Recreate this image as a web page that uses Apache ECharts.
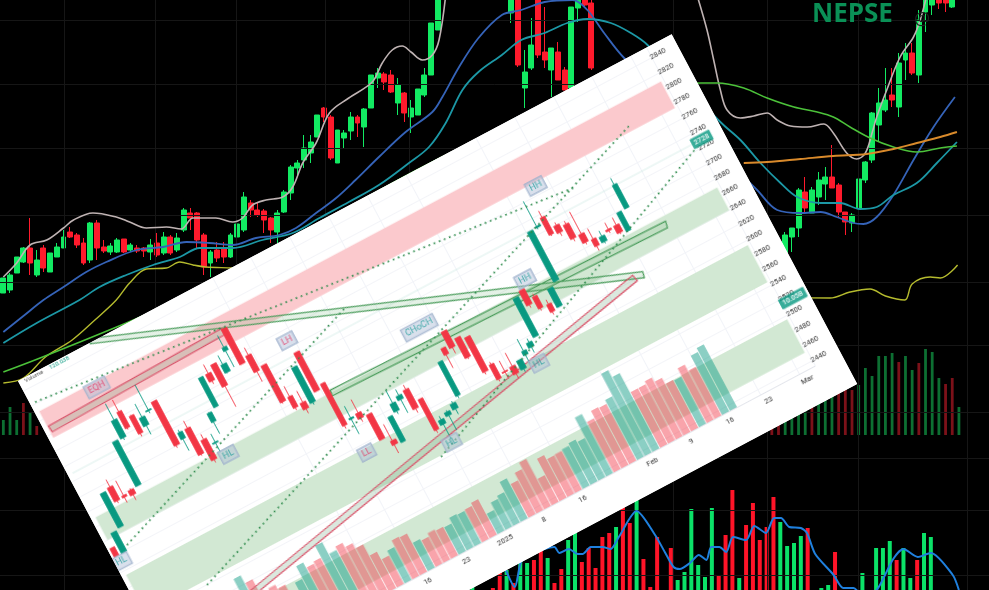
<!DOCTYPE html>
<html><head><meta charset="utf-8">
<style>
html,body{margin:0;padding:0;background:#000;width:989px;height:590px;overflow:hidden}
#bg{position:absolute;left:0;top:0;width:989px;height:590px;filter:blur(0.5px)}
#panel{position:absolute;left:18px;top:381px;width:740px;height:396px;transform-origin:0 0;transform:rotate(-27.95deg);background:#fff;overflow:hidden}
</style>
<script src="https://cdn.jsdelivr.net/npm/echarts@6/dist/echarts.min.js"></script>
</head><body>
<div id="bg"></div><div id="panel"></div>
<script>
// ---------- background chart readings: [dir, bodyTop, bodyBottom, wickTop, wickBottom], level
const bgCandlesA=[['g',278,293,278,293],['g',275,290,273,293],['g',257,273,257,273],['g',248,262,247,263],['r',248,263,218,275],['g',260,275,250,277],['r',248,268,245,272],['g',253,272,253,272],['g',247,257,243,257],['g',237,248,230,248],['r',232,237,227,238],['r',235,245,233,248],['r',243,263,238,265],['g',223,260,222,263],['r',223,248,220,260],['r',247,251,240,253],['g',246,252,243,255],['g',240,252,238,253],['r',239,252,239,253],['g',245,250,243,252],['r',248,251,245,253],['r',248,251,247,257],['g',245,252,239,260],['r',243,255,233,257],['g',237,253,232,255],['r',237,253,235,255],['g',238,250,233,252],['g',210,230,208,232],['r',213,218,208,230],['r',213,240,212,248],['r',235,267,233,275],['g',252,263,250,277],['r',250,258,242,262],['r',248,257,242,263],['g',235,257,233,258],['g',224,237,224,237],['g',197,230,192,232],['r',203,210,200,217],['r',210,215,202,217],['r',211,220,209,233],['r',218,230,217,243],['g',213,232,210,243],['g',192,212,190,213],['g',167,193,165,200],['g',163,168,160,177],['g',148,160,135,168],['g',142,153,135,163],['g',115,137,115,137],['r',108,117,107,122],['r',117,158,115,160],['g',130,163,130,163],['g',133,138,130,148],['g',117,131,112,140],['r',117,123,115,137],['g',109,127,108,147],['g',75,108,75,108],['g',73,78,68,88],['r',74,82,72,90],['r',75,92,70,93],['g',85,103,78,115],['r',93,113,92,122],['g',108,117,100,133],['g',89,115,89,115],['g',75,95,68,97],['g',23,75,23,75],['g',-10,30,-10,30]];
const bgCandlesB=[['g',-5,13,-5,23],['r',-5,65,-5,67],['g',72,88,50,108],['g',45,68,18,70],['r',-5,55,-5,58],['r',52,60,7,68],['g',48,70,48,97],['r',52,80,42,80],['r',70,90,67,90],['g',7,88,7,90],['g',-5,8,-5,22],['r',-5,5,-5,8],['r',3,68,-5,70]];
const bgCandlesC=[['g',235,255,232,258],['g',228,237,228,252],['g',190,228,188,237],['r',192,208,177,212],['g',190,213,187,213],['g',180,197,172,205],['g',177,184,167,200],['r',177,188,145,188],['r',185,212,183,217],['r',212,222,212,235],['g',215,223,213,232],['g',179,208,178,212],['g',162,180,161,183],['g',113,160,112,163],['g',103,125,88,142],['g',100,110,68,112],['r',95,100,68,107],['g',63,107,53,117],['g',53,60,43,80],['r',53,73,43,75],['g',20,75,10,83],['g',-5,12,-5,32],['g',-5,5,-5,15],['r',-5,3,-5,9],['r',-5,3,-5,12],['g',-5,7,-5,8]];
const bgStartA=0,bgStartB=76,bgStartC=117,bgBars=148;
const whiteLineA=[[0,277],[2,263],[4,245],[6.5,240],[9,228],[10.5,220],[13.4,213],[16.9,217],[18.9,222],[21.4,228],[24.4,227],[26.6,229],[28.4,218],[31.8,218],[34.3,222],[35.8,218],[37.3,205],[39.3,200],[41.8,197],[43.3,187],[44.8,163],[46.8,143],[48.8,113],[51.7,98],[55.2,82],[56.7,63],[58.2,50],[59.7,46],[61,52],[62.7,60],[64.2,55],[65.2,40],[66.2,-5]];
const whiteLineB=[[103.8,-5],[105.3,30],[106.3,60],[107.3,90],[108.3,110],[110.3,118],[112.3,116],[114.3,113],[115.8,120],[117.8,126],[120.3,127],[122.8,124],[124.2,133],[126.2,153],[127.7,159],[129,153],[130,133],[130.7,117],[132.2,90],[134.2,57],[136.2,37],[137.2,20],[138.2,-5]];
const blueLine=[[0,332],[3,316],[6,300],[9,287],[12.4,272],[15.4,262],[19.9,250],[23.9,247],[27.4,242],[30.8,243],[34.3,245],[37.8,238],[41.3,235],[43.8,228],[46.8,213],[49.8,198],[52.7,180],[56.2,157],[60.2,132],[64.2,112],[65.7,97],[68.2,67],[71.1,38],[74.6,15],[77.5,10],[81,2],[85.2,0],[87.4,10],[89.9,33],[92.9,58],[112.8,190],[115.8,210],[119.3,213],[122.3,212],[124.7,217],[127.2,223],[128.7,224],[130.7,217],[133.2,195],[136.2,160],[139.2,127],[142.4,97]];
const tealLine=[[0,343],[5,323],[11.4,300],[14.4,287],[18.4,275],[22.4,265],[26.4,257],[29.4,248],[34.3,248],[38.8,240],[43.3,233],[47.3,218],[51.7,202],[56.2,185],[60.7,163],[63.7,147],[66.2,123],[68.7,90],[71.1,72],[74.6,55],[77.5,40],[81,33],[84.4,23],[87.4,19],[90.9,23],[93.9,33],[96.4,45],[107.3,122],[110.3,140],[113.3,163],[116.3,183],[118.8,197],[122.3,203],[125.2,203],[128.2,209],[130.7,207],[133.2,195],[136.7,183],[139.7,163],[142.7,142]];
const yellowLine=[[0,383],[3,378],[6.3,357],[10.3,340],[13.7,320],[16.9,300],[18.9,283],[21.4,269],[24.4,268],[26.4,262],[28.4,265],[30.3,267],[34.3,268],[123.7,298],[126.7,292],[129.7,289],[132,296],[134.9,300],[136,284],[138.7,277],[140.2,278],[142.8,265]];
const greenLine=[[0,372],[5.5,358],[18.4,323],[104.4,83],[106.8,83],[110.8,88],[114.3,98],[118.3,107],[121.8,112],[124.2,117],[126.7,127],[129.7,138],[133.2,147],[136.7,152],[140.2,148],[142.7,146]];
const orangeLine=[[110.8,163],[114.3,162],[119.3,159],[124.2,156],[129.2,154],[133.2,149],[136.7,143],[140.2,137],[142.7,132]];
const bgGridColumns=[9.1,22.8,34.9,48.1,60.7,100.3,114.3,127.9,144.3];
const bgGridRows=[20,84,148,215,282,345,412,458,510,575];
const upperVolStart=115;
const upperVolLeft=[['g',420],['g',407],['g',420],['r',403],['g',412],['r',426]];
const upperVolRight=[['r',428],['r',425],['g',418],['g',415],['g',410],['g',408],['r',405],['g',400],['g',397],['g',393],['r',390],['r',388],['r',390],['g',385],['g',368],['g',376],['g',356],['g',356],['g',353],['r',362],['g',356],['g',370],['r',363],['g',349],['g',352],['g',378],['r',384],['r',378],['g',407]];
const lowerBars=[['g',585],null,null,['r',588],['r',570],['g',570],['r',583],['g',560],['g',563],['r',560],['r',550],['g',558],['r',583],['r',569],['g',540],['g',530],['r',562],['r',548],['r',568],['r',537],['r',533],['g',527],['r',505],['r',523],['g',497],['r',559],['r',587],['r',537],null,['r',548],['g',580],['g',572],['g',509],['g',565],['g',577],['g',508],['r',575],['r',535],['r',490],['g',578],['r',525],['r',503],['r',540],['r',527],['r',497],['g',522],['g',546],['g',543],['g',536],['r',528],null,['g',588],['g',585],['r',552],null,null,null,['g',573],null,['g',548],['g',548],['g',541],['r',560],['g',548],['g',578],['r',560],['g',533],['g',537]];
const lowerBlue=[[0.7,567],[2.2,587],[3.1,562],[4.3,555],[8,547],[8.7,553],[10.1,549],[11.4,554],[12.1,554],[13.3,547],[15,547],[16.2,549],[17.4,537],[20,511],[22.7,535],[24.2,553],[25.4,567],[26.3,569],[27.8,563],[29.1,555],[30.2,560],[30.9,547],[32.1,547],[33.1,552],[34.1,537],[36,540],[37.2,526],[38.9,533],[40.1,518],[41.1,518],[42.3,527],[44,528],[44.9,533],[46.1,554],[48.8,575],[50.2,588],[51.7,588],[53.1,596],[55.1,590],[57.5,559],[59,549],[61.1,557],[63,553],[66.2,575],[67.1,590]];
const bgTitle='NEPSE',bgMark='@';

// ---------- rotated chart readings
const candleOpen=[2629.7,2618.6,2646.4,2693.3,2677.2,2679.1,2679.4,2736.9,2766.2,2755.2,2736.9,2750.8,2757.7,2703.1,2711.6,2691.1,2681,2703.8,2717.9,2756.6,2763.6,2747.5,2770.4,2794.5,2753.7,2735.1,2688.4,2675.3,2669.7,2730.4,2683.9,2631.3,2634.1,2626.9,2586.9,2579.8,2614.8,2624.5,2632.2,2614.6,2575.9,2582,2585,2597.3,2654.6,2671.5,2657.6,2652.9,2611.4,2596.9,2597.8,2588.9,2602.2,2607.1,2615.8,2671.3,2657.9,2642,2633.6,2661.8,2727,2735,2718.9,2715,2696.6,2684.8,2675.8,2686.5,2686.5,2673.9,2698.3];
const candleClose=[2618.8,2644.9,2691.2,2675.3,2674.9,2672.8,2737.7,2760.2,2744.7,2731.9,2747.9,2751.9,2700,2711.7,2677.3,2664.7,2682.2,2715.4,2756.8,2746.8,2734.5,2758,2775,2747.9,2732.2,2686.6,2673.7,2666.7,2716.4,2679.1,2628.5,2632.9,2627.1,2593.8,2581.5,2612.9,2625.3,2629.9,2607,2573.8,2581.7,2586.6,2592,2642.1,2646,2650,2631.3,2607,2592,2595.7,2588,2600.6,2607.6,2613.4,2666.4,2651.9,2642.3,2632.2,2657.6,2727.1,2728.6,2712.4,2709.6,2696.3,2685.6,2675.5,2682.8,2684.7,2676.7,2698.4,2729.3];
const candleLow=[2618.8,2618.6,2646.4,2672.2,2667.9,2665.8,2679.4,2733.9,2742.7,2728,2725.2,2747.6,2696.9,2687.6,2675.3,2660.9,2669.4,2688.3,2717.9,2743,2707.3,2746.3,2749,2747.9,2718.7,2684.7,2670.6,2660.9,2666.6,2679.1,2624.6,2611.8,2622.4,2593.8,2570.6,2579.8,2611,2607,2601.5,2569.9,2556.4,2562.5,2578,2594.2,2628.5,2642.2,2629.3,2603.9,2588.9,2587.2,2582.2,2585.1,2590.6,2600.1,2615.8,2648,2639.2,2628.3,2633.6,2661.8,2725,2710.6,2705,2692.5,2682.6,2669.6,2673.5,2681.5,2674.7,2673.9,2698.3];
const candleHigh=[2629.7,2644.9,2691.2,2703,2696.7,2681,2737.7,2781.7,2781.7,2756.4,2765.3,2785,2757.7,2714.9,2721.3,2698.1,2693,2716.6,2756.8,2768.3,2763.6,2769.7,2790.5,2794.5,2763.4,2735.1,2702,2690.1,2716.4,2730.4,2683.9,2648.4,2651.6,2626.9,2608.3,2612.9,2642.8,2637.7,2638,2614.6,2586.4,2588.6,2595.1,2642.1,2654.6,2671.5,2657.6,2652.9,2614.6,2610.5,2615.3,2600.6,2623.1,2618.1,2666.4,2671.3,2661.1,2647.8,2657.6,2727.1,2761.6,2743.5,2722.8,2718.8,2725.7,2698.4,2689.8,2695,2696.2,2698.4,2737.8];
const volumeFirst=11;
const volumeRead=[84,75,45,59.5,55,40,52,66,60,62,75,61.5,65,60,54,41,32,37,44,43,32,30,33.5,32,31,37,36,37,40,23,31,34,45,38,46,53,30,48,43,43.5,44.6,47,44,66.6,57,65,64,68,93,85,63,63,66,61,54,53,62,55,67,71];
const dateLabels={25:'9',30:'16',35:'23',40:'2025',45:'8',50:'16',59:'Feb',64:'9',69:'16',74:'23',79:'Mar'};
const priceTicks={min:2440,max:2840,step:20};
const zones=[[2775,2810,'pink'],[2640,2670,'green'],[2545,2594,'green'],[2452,2496,'green']];
const zoneStart=-0.05,zoneEnd=80.2;
const greenChannels=[[9.12,2856.6,68.2,2624,68.04,2616.8,8.71,2851.7],[30.4,2672.9,73.2,2663.5,73.04,2655.7,30.3,2665.7]];
const redChannels=[[0.09,2789.6,22.76,2795.8,22.69,2787.6,0.18,2781.7],[11.52,2509.7,66.99,2625.8,67.17,2617.6,12.22,2503.9]];
const dottedLines=[[[0.02,2821.8],[65.9,2747.9]],[[1.64,2624.3],[36.27,2749.3]],[[7.57,2539.4],[74.75,2782.1]],[[37.98,2543.3],[80.33,2722.8]]];
const lastPrice=2728;
const structureLabels=[[7.02,2803.2,'EQH','p'],[28.68,2747.3,'LH','p'],[16.7,2662.3,'HL','t'],[30.73,2588.5,'LL','p'],[42.7,2688.4,'CHoCH','t'],[39.83,2552.6,'HL','t'],[55.95,2680.7,'HH','t'],[52.85,2586.3,'HL','t'],[62,2770.8,'HH','t'],[0.23,2610.3,'HL','t']];
const priceTags=[[81.2,2728,'2728'],[81.9,2514.6,'10.05B']];
const legendTexts=['Volume','120.038'];

// ---------- background chart
const BG_G='#12ea62',BG_R='#ff1a2c';
const lvl=y=>590-y;
const bgRows=new Array(bgBars).fill(null);
[[bgStartA,bgCandlesA],[bgStartB,bgCandlesB],[bgStartC,bgCandlesC]].forEach(([s,a])=>a.forEach((r,i)=>bgRows[s+i]=r));
const bgCandleData=bgRows.map(r=>{
  if(!r) return ['-','-','-','-'];
  const top=lvl(r[1]),bot=lvl(r[2]),hi=lvl(r[3]),lo=lvl(r[4]);
  return r[0]==='g'?[bot,top,lo,hi]:[top,bot,lo,hi];
});
const cats=bgRows.map((_,i)=>String(i));
const upperVol=new Array(bgBars).fill(null);
upperVolLeft.forEach((r,i)=>upperVol[i]=r);
upperVolRight.forEach((r,i)=>upperVol[upperVolStart+i]=r);
const toLine=(a,name,color,width)=>({type:'line',name,xAxisIndex:1,yAxisIndex:0,data:a.map(p=>[p[0],lvl(p[1])]),showSymbol:false,smooth:0.35,lineStyle:{color,width},z:6,silent:true});
const bgChart=echarts.init(document.getElementById('bg'),null,{renderer:'canvas'});
bgChart.setOption({
  animation:false,backgroundColor:'#000',
  graphic:[
    {type:'text',left:812,top:2,z:20,style:{text:bgTitle,fill:'#0a9056',font:'bold 26px "Open Sans"'}},
    {type:'text',left:914,top:11,z:20,style:{text:bgMark,fill:'#1b2620',font:'18px "Open Sans"'}}
  ],
  grid:[
    {left:-2.35,width:991.6,top:0,height:590},
    {left:-2.35,width:991.6,top:0,height:435},
    {left:468.95,width:524.4,top:0,height:590}
  ],
  xAxis:[
    {type:'category',gridIndex:0,data:cats,show:false},
    {type:'value',gridIndex:0,min:-0.5,max:147.5,show:false},
    {type:'category',gridIndex:1,data:cats,show:false},
    {type:'category',gridIndex:2,data:lowerBars.map((_,i)=>String(i)).concat(new Array(76-lowerBars.length).fill('')),show:false},
    {type:'value',gridIndex:2,min:-4.5,max:71.5,show:false}
  ],
  yAxis:[
    {type:'value',gridIndex:0,min:0,max:590,show:false},
    {type:'value',gridIndex:1,min:0,max:435,show:false},
    {type:'value',gridIndex:2,min:0,max:590,show:false}
  ],
  series:[
    {type:'line',xAxisIndex:1,yAxisIndex:0,data:[[0,0]],showSymbol:false,silent:true,z:0,
     markLine:{silent:true,symbol:'none',label:{show:false},lineStyle:{color:'#161616',width:1,type:'solid'},
       data:bgGridColumns.map(x=>({xAxis:x})).concat(bgGridRows.map(y=>({yAxis:lvl(y)})))}},
    {type:'bar',xAxisIndex:2,yAxisIndex:1,barWidth:2.8,z:2,silent:true,
     data:upperVol.map(r=>r?{value:435-r[1],itemStyle:{color:r[0]==='g'?'#0d6f32':'#7c1119'}}:'-')},
    {type:'bar',xAxisIndex:3,yAxisIndex:2,barWidth:4,z:2,silent:true,
     data:lowerBars.map(r=>r?{value:lvl(r[1]),itemStyle:{color:r[0]==='g'?'#0be268':'#ff1428'}}:'-')},
    {type:'line',xAxisIndex:4,yAxisIndex:2,data:lowerBlue.map(p=>[p[0],lvl(p[1])]),showSymbol:false,smooth:0.25,lineStyle:{color:'#1f80de',width:2},z:5,silent:true},
    {type:'candlestick',xAxisIndex:0,yAxisIndex:0,data:bgCandleData,barWidth:5.4,z:4,silent:true,
     itemStyle:{color:BG_G,color0:BG_R,borderColor:BG_G,borderColor0:BG_R,borderWidth:1}},
    toLine(whiteLineA,'w1','#bfb3b3',1.6),toLine(whiteLineB,'w2','#bfb3b3',1.6),
    toLine(blueLine,'blue','#3563b8',1.8),toLine(tealLine,'teal','#1c98a6',1.8),
    toLine(yellowLine,'yellow','#b5bb2e',1.4),toLine(greenLine,'green','#4cc23a',1.5),toLine(orangeLine,'orange','#d98a2b',1.9)
  ]
});

// ---------- rotated chart
const UP='#089981',DN='#f23645';
const nCats=81;
const tCats=new Array(nCats).fill(0).map((_,i)=>String(i));
const isLabelled=i=>dateLabels[i]!==undefined;
const volData=candleOpen.map((o,i)=>{
  const h=i>=volumeFirst?volumeRead[i-volumeFirst]:undefined;
  return h===undefined?'-':{value:h,itemStyle:{color:candleClose[i]>=o?'rgba(8,153,129,0.47)':'rgba(242,54,69,0.45)'}};
});
const channel=(data,fill,stroke)=>({type:'custom',xAxisIndex:2,yAxisIndex:1,data,z:4,silent:true,clip:false,
  encode:{x:[0,2,4,6],y:[1,3,5,7]},
  renderItem:(p,api)=>({type:'polygon',shape:{points:[0,1,2,3].map(k=>api.coord([api.value(2*k),api.value(2*k+1)]))},style:{fill,stroke,lineWidth:1.2}})});
const panel=echarts.init(document.getElementById('panel'),null,{renderer:'canvas'});
panel.setOption({
  animation:false,backgroundColor:'#fff',
  textStyle:{fontFamily:'Roboto'},
  graphic:[
    {type:'text',left:6,top:0,style:{text:legendTexts[0],fill:'#555',font:'6px Roboto'}},
    {type:'text',left:34,top:0,style:{text:legendTexts[1],fill:'#089981',font:'6px Roboto'}}
  ],
  grid:[{left:0.6,width:710.4,top:0,height:360},{left:0.6,width:710.4,top:11,height:343}],
  xAxis:[
    {type:'category',gridIndex:0,data:tCats,axisTick:{show:false},axisLine:{lineStyle:{color:'#e4e6ec'}},
     splitLine:{show:true,interval:i=>isLabelled(i),lineStyle:{color:'#f1f3f8'}},
     axisLabel:{interval:i=>isLabelled(i),margin:5,fontSize:7.5,color:'#333',formatter:(v,i)=>dateLabels[i]||''}},
    {type:'category',gridIndex:1,data:tCats,show:false},
    {type:'value',gridIndex:1,min:-0.5,max:80.5,show:false}
  ],
  yAxis:[
    {type:'value',gridIndex:0,min:0,max:360,show:false},
    {type:'value',gridIndex:1,position:'right',min:priceTicks.min,max:priceTicks.max,interval:priceTicks.step,
     axisLine:{show:false},axisTick:{show:false},splitLine:{lineStyle:{color:'#f3f4f8'}},
     axisLabel:{margin:-1,fontSize:7.5,color:'#333',showMinLabel:true,showMaxLabel:true,formatter:v=>String(v)}}
  ],
  series:[
    {type:'line',xAxisIndex:2,yAxisIndex:1,data:[[0,2600]],showSymbol:false,lineStyle:{opacity:0},z:1,silent:true,
     markArea:{silent:true,data:zones.map(z=>[{xAxis:zoneStart,yAxis:z[1],itemStyle:{color:z[2]==='pink'?'#fbc9cd':'#d2e8d3'}},{xAxis:zoneEnd,yAxis:z[0]}])}},
    {type:'line',xAxisIndex:2,yAxisIndex:1,data:[[0,lastPrice],[80.5,lastPrice]],showSymbol:false,lineStyle:{color:'#b9dfd9',width:0.5},z:2,silent:true},
    {type:'bar',xAxisIndex:0,yAxisIndex:0,data:volData,barWidth:8,z:3,silent:true},
    channel(greenChannels,'rgba(120,185,130,0.2)','#4a9c5b'),
    channel(redChannels,'rgba(110,165,125,0.25)','#d9536a'),
    ...dottedLines.map(l=>({type:'line',xAxisIndex:2,yAxisIndex:1,data:l,showSymbol:false,clip:false,silent:true,z:6,
       lineStyle:{color:'#2c8a4b',width:1.7,type:[1.7,3.8]}})),
    {type:'candlestick',xAxisIndex:1,yAxisIndex:1,barWidth:6.2,z:5,silent:true,
     data:candleOpen.map((o,i)=>[o,candleClose[i],candleLow[i],candleHigh[i]]),
     itemStyle:{color:UP,color0:DN,borderColor:UP,borderColor0:DN,borderWidth:0.8}},
    {type:'scatter',xAxisIndex:2,yAxisIndex:1,symbolSize:1,silent:true,z:8,clip:false,itemStyle:{color:'rgba(0,0,0,0)'},
     data:structureLabels.map(l=>({value:[l[0],l[1]],label:{show:true,position:'inside',formatter:l[2],fontSize:9,color:l[3]==='p'?'#e23562':'#1d9b9a',
        backgroundColor:'rgba(176,190,216,0.6)',borderColor:'#9db0ca',borderWidth:0.8,padding:[2,3]}}))},
    {type:'scatter',xAxisIndex:2,yAxisIndex:1,symbolSize:1,silent:true,z:9,clip:false,itemStyle:{color:'rgba(0,0,0,0)'},
     data:priceTags.map(l=>({value:[l[0],l[1]],label:{show:true,position:'inside',formatter:l[2],fontSize:7,color:'#fff',fontWeight:'bold',
        backgroundColor:'#089981',padding:[2,3],borderRadius:1}}))}
  ]
});
</script>
</body></html>
